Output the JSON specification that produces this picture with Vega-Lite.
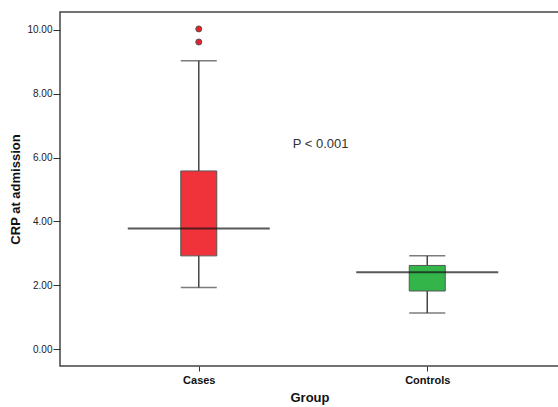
{
  "$schema": "https://vega.github.io/schema/vega-lite/v6.json",
  "width": 499,
  "height": 354,
  "autosize": "none",
  "padding": {"left": 60, "top": 12, "right": 0, "bottom": 41},
  "background": "white",
  "config": {
    "view": {"stroke": "#444", "strokeWidth": 1.5},
    "font": "Liberation Sans",
    "axis": {"grid": false, "domain": false, "tickColor": "#333", "labelColor": "#222", "titleColor": "#111", "labelFont": "Liberation Sans", "titleFont": "Liberation Sans"}
  },
  "datasets": {
    "stats": [
      {"group": "Cases", "lower": 1.93, "q1": 2.92, "median": 3.78, "q3": 5.58, "upper": 9.03},
      {"group": "Controls", "lower": 1.13, "q1": 1.82, "median": 2.41, "q3": 2.62, "upper": 2.92}
    ],
    "outliers": [
      {"group": "Cases", "value": 10.03},
      {"group": "Cases", "value": 9.62}
    ],
    "note": [
      {"group": "Cases", "value": 6.43, "label": "P < 0.001"}
    ]
  },
  "encoding": {
    "x": {
      "field": "group", "type": "nominal",
      "scale": {"type": "point", "padding": 0.592, "align": 0.513},
      "axis": {"title": "Group", "labelAngle": 0, "labelFontSize": 11, "labelFontWeight": "bold", "labelColor": "#111", "titleFontSize": 13, "titleFontWeight": "bold", "tickSize": 5, "labelPadding": 3, "titlePadding": 6}
    }
  },
  "layer": [
    {
      "data": {"name": "stats"},
      "mark": {"type": "rule", "color": "#444", "strokeWidth": 1.5},
      "encoding": {
        "y": {"field": "lower", "type": "quantitative", "scale": {"domain": [-0.53, 10.56], "nice": false, "zero": false},
          "axis": {"title": "CRP at admission", "values": [0, 2, 4, 6, 8, 10], "format": ".2f", "labelFontSize": 10, "titleFontSize": 13, "titleFontWeight": "bold", "tickSize": 7, "labelPadding": 1, "titlePadding": 4}},
        "y2": {"field": "upper"}
      }
    },
    {
      "data": {"name": "stats"},
      "mark": {"type": "tick", "color": "#444", "size": 36, "thickness": 1.5},
      "encoding": {"y": {"field": "lower", "type": "quantitative"}}
    },
    {
      "data": {"name": "stats"},
      "mark": {"type": "tick", "color": "#444", "size": 36, "thickness": 1.5},
      "encoding": {"y": {"field": "upper", "type": "quantitative"}}
    },
    {
      "data": {"name": "stats"},
      "mark": {"type": "bar", "size": 36, "stroke": "#555", "strokeWidth": 1},
      "encoding": {
        "y": {"field": "q1", "type": "quantitative"},
        "y2": {"field": "q3"},
        "color": {"field": "group", "type": "nominal", "scale": {"domain": ["Cases", "Controls"], "range": ["#F0323B", "#33B54A"]}, "legend": null}
      }
    },
    {
      "data": {"name": "stats"},
      "mark": {"type": "tick", "color": "#111", "size": 142, "thickness": 2},
      "encoding": {"y": {"field": "median", "type": "quantitative"}}
    },
    {
      "data": {"name": "outliers"},
      "mark": {"type": "point", "filled": true, "fill": "#E8202A", "stroke": "#555", "strokeWidth": 1, "size": 36, "opacity": 1},
      "encoding": {"y": {"field": "value", "type": "quantitative"}}
    },
    {
      "data": {"name": "note"},
      "mark": {"type": "text", "align": "left", "baseline": "middle", "dx": 94, "fontSize": 13, "color": "#333", "font": "Liberation Sans"},
      "encoding": {"y": {"field": "value", "type": "quantitative"}, "text": {"field": "label"}}
    }
  ]
}
